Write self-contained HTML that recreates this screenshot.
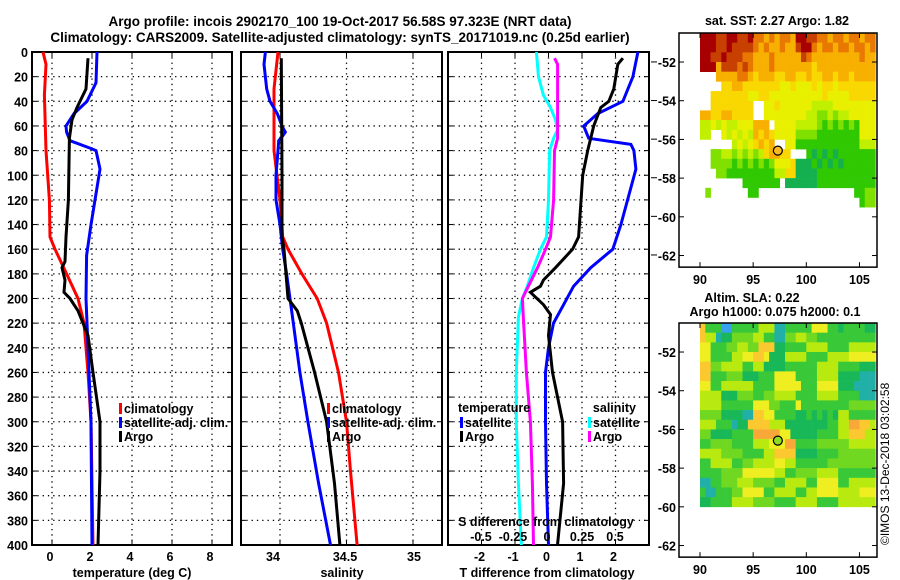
<!DOCTYPE html>
<html><head><meta charset="utf-8"><style>
html,body{margin:0;padding:0;background:#fff;}
svg{display:block;font-family:"Liberation Sans",sans-serif;font-weight:bold;}
</style></head><body>
<svg id="fig" width="900" height="580" viewBox="0 0 900 580" xmlns="http://www.w3.org/2000/svg">
<rect width="900" height="580" fill="#fff"/>
<text x="340" y="26" text-anchor="middle" font-size="13.5">Argo profile: incois 2902170_100 19-Oct-2017 56.58S 97.323E (NRT data)</text>
<text x="340" y="42" text-anchor="middle" font-size="13.5">Climatology: CARS2009. Satellite-adjusted climatology: synTS_20171019.nc (0.25d earlier)</text>
<g id="plots"></g>
<text transform="translate(889,545) rotate(-90)" font-size="12" font-weight="normal">©IMOS 13-Dec-2018 03:02:58</text>
</svg>
<script>
// ---------- profile data ----------
const depthTicks = [0,20,40,60,80,100,120,140,160,180,200,220,240,260,280,300,320,340,360,380,400];
// Panel 1 temperature
const tClimDepth = [0,10,35,80,120,150,160,180,200,220,260,300,400];
const tClimVal   = [-0.45,-0.3,-0.38,-0.3,-0.13,-0.1,0.15,0.73,1.3,1.6,1.8,1.95,2.05];
const tArgoDepth = [5,30,45,55,70,120,150,170,175,185,195,200,210,230,260,300,340,400];
const tArgoVal   = [1.8,1.7,1.25,1.0,0.87,0.82,0.7,0.65,0.5,0.65,0.6,0.9,1.3,1.8,2.05,2.4,2.4,2.3];
const tSatDepth  = [0,25,40,50,60,65,72,78,80,95,110,140,165,200,220,300,400];
const tSatVal    = [2.25,2.2,1.75,1.1,0.7,0.73,0.9,1.9,2.2,2.4,2.25,1.95,1.73,1.7,1.75,1.95,2.0];
// Panel 2 salinity
const sClimDepth = [0,30,80,120,150,160,180,200,220,260,300,340,400];
const sClimVal   = [33.985,33.955,33.955,34.0,34.02,34.06,34.165,34.28,34.35,34.44,34.5,34.53,34.58];
const sArgoDepth = [5,100,150,160,200,210,220,260,300,350,400];
const sArgoVal   = [34.01,34.015,34.015,34.03,34.06,34.13,34.16,34.26,34.35,34.41,34.45];
const sSatDepth  = [0,10,30,40,50,60,65,68,72,80,100,120,140,160,180,200,220,260,300,350,400];
const sSatVal    = [33.89,33.88,33.9,33.925,33.98,34.015,34.04,34.02,33.99,33.985,33.97,33.97,34.0,34.02,34.05,34.075,34.1,34.15,34.21,34.29,34.38];
// Panel 3 differences (T units; S plotted x4)
const dTArgoDepth = [5,10,30,40,45,60,80,100,150,160,175,185,190,195,205,213,230,260,300,350,400];
const dTArgoVal   = [2.22,2.07,1.95,1.8,1.56,1.35,1.17,1.02,0.9,0.72,0.21,-0.15,-0.24,-0.54,-0.15,0.06,0.0,0.12,0.42,0.45,0.27];
const dTSatDepth  = [0,20,40,50,60,70,75,80,95,110,140,160,175,190,205,220,240,260,300,350,400];
const dTSatVal    = [2.67,2.52,2.22,1.47,1.05,1.2,2.46,2.55,2.61,2.46,2.16,1.92,1.26,0.75,0.45,0.15,0.0,-0.09,-0.09,-0.06,0.0];
const dSArgoDepth = [5,10,50,70,80,120,150,160,175,190,200,215,260,300,350,400];
const dSArgoVal   = [0.045,0.068,0.068,0.068,0.045,0.038,0.015,-0.022,-0.082,-0.15,-0.195,-0.188,-0.165,-0.135,-0.12,-0.112];
const dSSatDepth  = [0,20,35,45,55,63,70,80,120,150,160,175,190,200,215,260,300,350,400];
const dSSatVal    = [-0.09,-0.075,-0.038,0.015,0.052,0.068,0.038,0.008,0.0,-0.015,-0.06,-0.112,-0.158,-0.195,-0.225,-0.24,-0.24,-0.225,-0.202];
// ---------- map data ----------
const sstRows = [
"999889988977676776998877677677677",
"999889888876766766899767767767767",
"998898887766676666687666666666766",
"999688878766676666666566666666666",
"...666677656665566556556656656666",
"....55665555555445444545545555555",
"..5555555445544444444445444455555",
"..55555555..445444444333344444444",
"6655665555..444444443322323344444",
"3343433444666.4444333321212121444",
"33..43434365654444222211111111444",
"......34345656..44111111111111333",
"..2233232323566 5...1010101111111".replace(' ','5'),
"..2222121212124445000101010111111",
"...221111111113355000011111111111",
"........1111111.00000011111111111",
".2.......11..................1122",
"..............................122"
];
const sstColors = ["#14b050","#30c800","#80e000","#c0f000","#e8f000","#f8d800","#f8b000","#e87800","#c84000","#a80000"];
const slaRows = [
"733300333335551133333666332333322",
"755122444455331144554433333333333",
"663334455447772233335555333355555",
"663333556677622255553333555566666",
"774455553355222233333355553333222",
"773334442223336666333355552222111",
"663355555533336666633366662221111",
"555522244433445555333355553333111",
"555533333366644333633333333344444",
"444422221177663333223232325533333",
"555333122777755522222222335588775",
"442222333388888662222233335577755",
"334444333355566688333344444455555",
"555544443333557777222233334444444",
"335555334455556655333333444444444",
"333344446666665533444455553333333",
"113344455544443355553366663355555",
"311333446666335555335566665555666",
"223333555544443333555533335555555"
];
const slaColors = ["#3aa0f0","#20b0a8","#18b858","#38c838","#70d820","#b8ea10","#eeee20","#fcc830","#f8a838"];
// ---------- drawing ----------
const NS = "http://www.w3.org/2000/svg";
const root = document.getElementById('plots');
function mk(tag, attrs, parent){const e=document.createElementNS(NS,tag);for(const k in attrs)e.setAttribute(k,attrs[k]);(parent||root).appendChild(e);return e;}
const Y0=52, Y1=545;
function yD(d){return Y0+(Y1-Y0)*d/400;}
function lin(d0,d1,r0,r1){return v=>r0+(v-d0)*(r1-r0)/(d1-d0);}

function panel(name,x0,x1,xs,gridVals,labels){
  const g=mk('g',{});
  
  
  depthTicks.forEach(d=>{ if(d>0&&d<400){const l=mk('line',{x1:x0,x2:x1,y1:yD(d),y2:yD(d),stroke:'#000','stroke-width':1.3,'stroke-dasharray':'1.3 4'},g);
    
    
    mk('line',{x1:x0,x2:x0+5,y1:yD(d),y2:yD(d),stroke:'#000','stroke-width':1},g);
    mk('line',{x1:x1,x2:x1-5,y1:yD(d),y2:yD(d),stroke:'#000','stroke-width':1},g);}});
  gridVals.forEach(v=>{const x=xs(v);const l=mk('line',{x1:x,x2:x,y1:Y0,y2:Y1,stroke:'#000','stroke-width':1.3,'stroke-dasharray':'1.3 4'},g);
    
    
    mk('line',{x1:x,x2:x,y1:Y0,y2:Y0+5,stroke:'#000'},g);mk('line',{x1:x,x2:x,y1:Y1,y2:Y1-5,stroke:'#000'},g);});
  labels.forEach(v=>{const t=mk('text',{x:xs(v)-2,y:561,'text-anchor':'middle','font-size':12.5},g);t.textContent=String(v);
    
    });
  const fr=mk('rect',{x:x0,y:Y0,width:x1-x0,height:Y1-Y0,fill:'none',stroke:'#000','stroke-width':2},g);
  
  
  return g;
}
function series(g,name,depths,vals,xs,color,scale){
  const pts=depths.map((d,i)=>xs(vals[i]*(scale||1)).toFixed(1)+','+yD(d).toFixed(1)).join(' ');
  const p=mk('polyline',{points:pts,fill:'none',stroke:color,'stroke-width':3,'stroke-linejoin':'miter'},g);
  
  
}
function txt(g,x,y,s,name,anchor,size){const t=mk('text',{x:x,y:y,'font-size':size||12.5,'text-anchor':anchor||'start'},g);t.textContent=s;
  
  return t;}
function legendItem(g,x,y,color,label,name){const r=mk('rect',{x:x,y:y-10,width:3,height:11,fill:color},g);
  
  
  txt(g,x+5,y,label,name);}

const yl=mk('g',{});


depthTicks.forEach(d=>txt(yl,28,yD(d)+5,String(d),'y-tick-label','end'));

const x1s=lin(-1,9,32,232);
const g1=panel('temperature-panel',32,232,x1s,[0,2,4,6,8],[0,2,4,6,8]);
series(g1,'temp-climatology-line',tClimDepth,tClimVal,x1s,'#ff0000');
series(g1,'temp-satellite-adj-line',tSatDepth,tSatVal,x1s,'#0000ff');
series(g1,'temp-argo-line',tArgoDepth,tArgoVal,x1s,'#000000');
legendItem(g1,119,413,'#ff0000','climatology','legend-climatology');
legendItem(g1,119,427,'#0000ff','satellite-adj. clim.','legend-satellite-adj');
legendItem(g1,119,441,'#000000','Argo','legend-argo');
txt(g1,132,577,'temperature (deg C)','x-axis-title-temperature','middle');

const x2s=lin(34,35,280,413);
const g2=panel('salinity-panel',241,442,x2s,[34,34.5,35],[]);
[[34,273],[34.5,345],[35,414]].forEach(a=>txt(g2,a[1],561,String(a[0]),'x-tick-label','middle'));
series(g2,'sal-climatology-line',sClimDepth,sClimVal,x2s,'#ff0000');
series(g2,'sal-satellite-adj-line',sSatDepth,sSatVal,x2s,'#0000ff');
series(g2,'sal-argo-line',sArgoDepth,sArgoVal,x2s,'#000000');
legendItem(g2,327,413,'#ff0000','climatology','legend-climatology');
legendItem(g2,327,427,'#0000ff','satellite-adj. clim.','legend-satellite-adj');
legendItem(g2,327,441,'#000000','Argo','legend-argo');
txt(g2,342,577,'salinity','x-axis-title-salinity','middle');

const x3s=lin(-3,3,448,649);
const g3=panel('difference-panel',448,649,x3s,[-2,-1,0,1,2],[-2,-1,0,1,2]);
series(g3,'s-diff-satellite-line',dSSatDepth,dSSatVal,x3s,'#00ffff',4);
series(g3,'s-diff-argo-line',dSArgoDepth,dSArgoVal,x3s,'#ff00ff',4);
series(g3,'t-diff-satellite-line',dTSatDepth,dTSatVal,x3s,'#0000ff');
series(g3,'t-diff-argo-line',dTArgoDepth,dTArgoVal,x3s,'#000000');
txt(g3,458,412,'temperature','legend-temperature-header');
legendItem(g3,460,427,'#0000ff','satellite','legend-t-satellite');
legendItem(g3,460,441,'#000000','Argo','legend-t-argo');
txt(g3,636,412,'salinity','legend-salinity-header','end');
legendItem(g3,588,427,'#00ffff','satellite','legend-s-satellite');
legendItem(g3,588,441,'#ff00ff','Argo','legend-s-argo');
txt(g3,546,526,'S difference from climatology','s-axis-title','middle');
[['-0.5',481],['-0.25',513],['0',547],['0.25',582],['0.5',615]].forEach(a=>txt(g3,a[1],541,a[0],'s-tick-label','middle'));
txt(g3,547,577,'T difference from climatology','x-axis-title-tdiff','middle');
[-52,-54,-56,-58,-60,-62].forEach(l=>mk('line',{x1:651,x2:657,y1:33+(-50.5-l)*19.3,y2:33+(-50.5-l)*19.3,stroke:'#000'},g3));

const lonX=lin(90,106.5,700,875.4);
function map(name,top,latTopY,rows,colors,circleFill){
  const g=mk('g',{});
  
  
  const latY=lat=>latTopY+(-50.5-lat)*19.35;
  rows.forEach((row,r)=>{for(let c=0;c<33;c++){const ch=row[c];if(!ch||ch==='.'||ch===' ')continue;const v=+ch;
    const lon=90+c*0.5, lat=-50.5-r*0.5;
    const x=lonX(lon), y=latY(lat), w=lonX(lon+0.5)-x, h=latY(lat-0.5)-y;
    const rc=mk('rect',{x:x.toFixed(2),y:y.toFixed(2),width:(w+0.3).toFixed(2),height:(h+0.3).toFixed(2),fill:colors[v]},g);
    
    }});
  const cx=lonX(97.323), cy=latY(-56.58);
  const ci=mk('circle',{cx:cx,cy:cy,r:4.5,fill:circleFill,stroke:'#000','stroke-width':1.2},g);
  
  
  const bottom=latY(-62.6);
  const fr=mk('rect',{x:679,y:top,width:198,height:bottom-top,fill:'none',stroke:'#000','stroke-width':1.5},g);
  
  
  [-52,-54,-56,-58,-60,-62].forEach(l=>{const y=latY(l);mk('line',{x1:679,x2:684,y1:y,y2:y,stroke:'#000'},g);mk('line',{x1:877,x2:872,y1:y,y2:y,stroke:'#000'},g);
    txt(g,676,y+5,String(l),'lat-tick-label','end');});
  [90,95,100,105].forEach(l=>{const x=lonX(l);mk('line',{x1:x,x2:x,y1:top,y2:top+5,stroke:'#000'},g);mk('line',{x1:x,x2:x,y1:bottom,y2:bottom-5,stroke:'#000'},g);
    txt(g,x,bottom+17,String(l),'lon-tick-label','middle');});
  return g;
}
const gm1=map('sst-map',33,33,sstRows,sstColors,"#f8b820");
txt(gm1,777,25,'sat. SST: 2.27 Argo: 1.82','sst-map-title','middle');
const gm2=map('sla-map',323,323,slaRows,slaColors,"#90dc20");
txt(gm2,752,302,'Altim. SLA: 0.22','sla-map-title','middle');
txt(gm2,775,316,'Argo h1000: 0.075 h2000: 0.1','sla-map-subtitle','middle');
</script>
</body></html>
